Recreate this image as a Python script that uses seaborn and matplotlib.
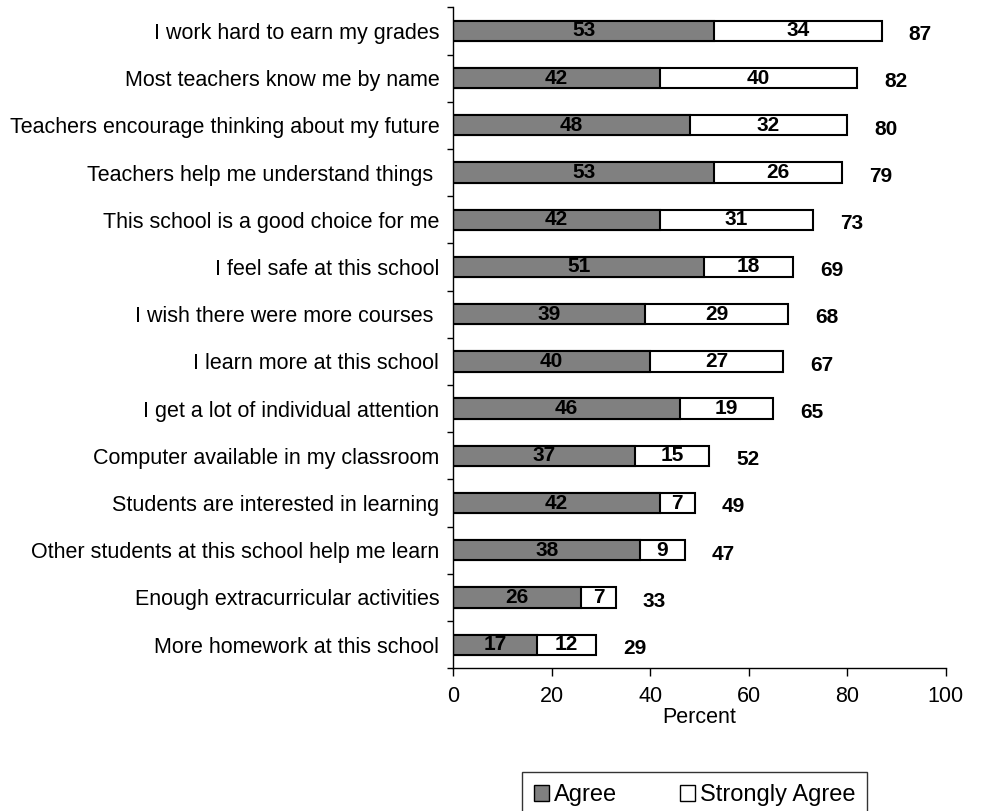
import numpy as np
import pandas as pd
import matplotlib
matplotlib.use("Agg")
import matplotlib.pyplot as plt
import seaborn as sns
from matplotlib.patches import Patch

items = ["I work hard to earn my grades",
         "Most teachers know me by name",
         "Teachers encourage thinking about my future",
         "Teachers help me understand things ",
         "This school is a good choice for me",
         "I feel safe at this school",
         "I wish there were more courses ",
         "I learn more at this school",
         "I get a lot of individual attention",
         "Computer available in my classroom",
         "Students are interested in learning",
         "Other students at this school help me learn",
         "Enough extracurricular activities",
         "More homework at this school"]
agree = [53, 42, 48, 53, 42, 51, 39, 40, 46, 37, 42, 38, 26, 17]
strongly = [34, 40, 32, 26, 31, 18, 29, 27, 19, 15, 7, 9, 7, 12]
totals = [87, 82, 80, 79, 73, 69, 68, 67, 65, 52, 49, 47, 33, 29]

df = pd.DataFrame({"item": items, "agree": agree, "strongly": strongly, "total": totals})

sns.set_style("ticks")
plt.rcParams["font.family"] = ["Liberation Sans", "DejaVu Sans"]
for k in ["text.color", "axes.labelcolor", "xtick.color", "ytick.color"]:
    plt.rcParams[k] = "black"

fig = plt.figure(figsize=(10.05, 8.11), dpi=100)
ax = fig.add_axes([0.451, 0.176, 0.490, 0.815])

# white bar = full stack, grey bar on top = agree
sns.barplot(data=df, x="total", y="item", color="white", edgecolor="black",
            linewidth=1.5, width=0.43, ax=ax, orient="h")
sns.barplot(data=df, x="agree", y="item", color="#808080", edgecolor="black",
            linewidth=1.5, width=0.43, ax=ax, orient="h", saturation=1)

for i, (a, s, t) in enumerate(zip(agree, strongly, totals)):
    ax.text(a / 2, i, str(a), ha="center", va="center", fontsize=15, fontweight="bold")
    ax.text(a + s / 2, i, str(s), ha="center", va="center", fontsize=15, fontweight="bold")
    ax.text(t + 5.5, i + 0.08, str(t), ha="left", va="center", fontsize=15, fontweight="bold")

ax.set_xlim(0, 100)
ax.set_ylim(13.5, -0.5)
ax.set_xticks(range(0, 101, 20))
ax.set_xlabel("Percent", fontsize=15.5, labelpad=0)
ax.set_ylabel("")
ax.tick_params(axis="x", labelsize=15.5, length=6, width=1, pad=7)
ax.tick_params(axis="y", which="major", labelsize=15.5, length=0, pad=10)
ax.set_yticks(np.arange(-0.5, 14, 1), minor=True)
ax.tick_params(axis="y", which="minor", length=4, width=1)
sns.despine(ax=ax)
for sp in ["left", "bottom"]:
    ax.spines[sp].set_linewidth(1)
    ax.spines[sp].set_color("black")

handles = [Patch(facecolor="#808080", edgecolor="black", label="Agree"),
           Patch(facecolor="white", edgecolor="black", label="Strongly Agree")]
leg = fig.legend(handles=handles, loc="upper center", bbox_to_anchor=(0.691, 0.048),
                 ncol=2, frameon=True, fancybox=False, fontsize=17,
                 handlelength=0.65, handleheight=0.65, handletextpad=0.2,
                 columnspacing=2.65, borderpad=0.52, borderaxespad=0)
leg.get_frame().set_edgecolor("black")
leg.get_frame().set_linewidth(1)

fig.savefig("out.png", dpi=100)
